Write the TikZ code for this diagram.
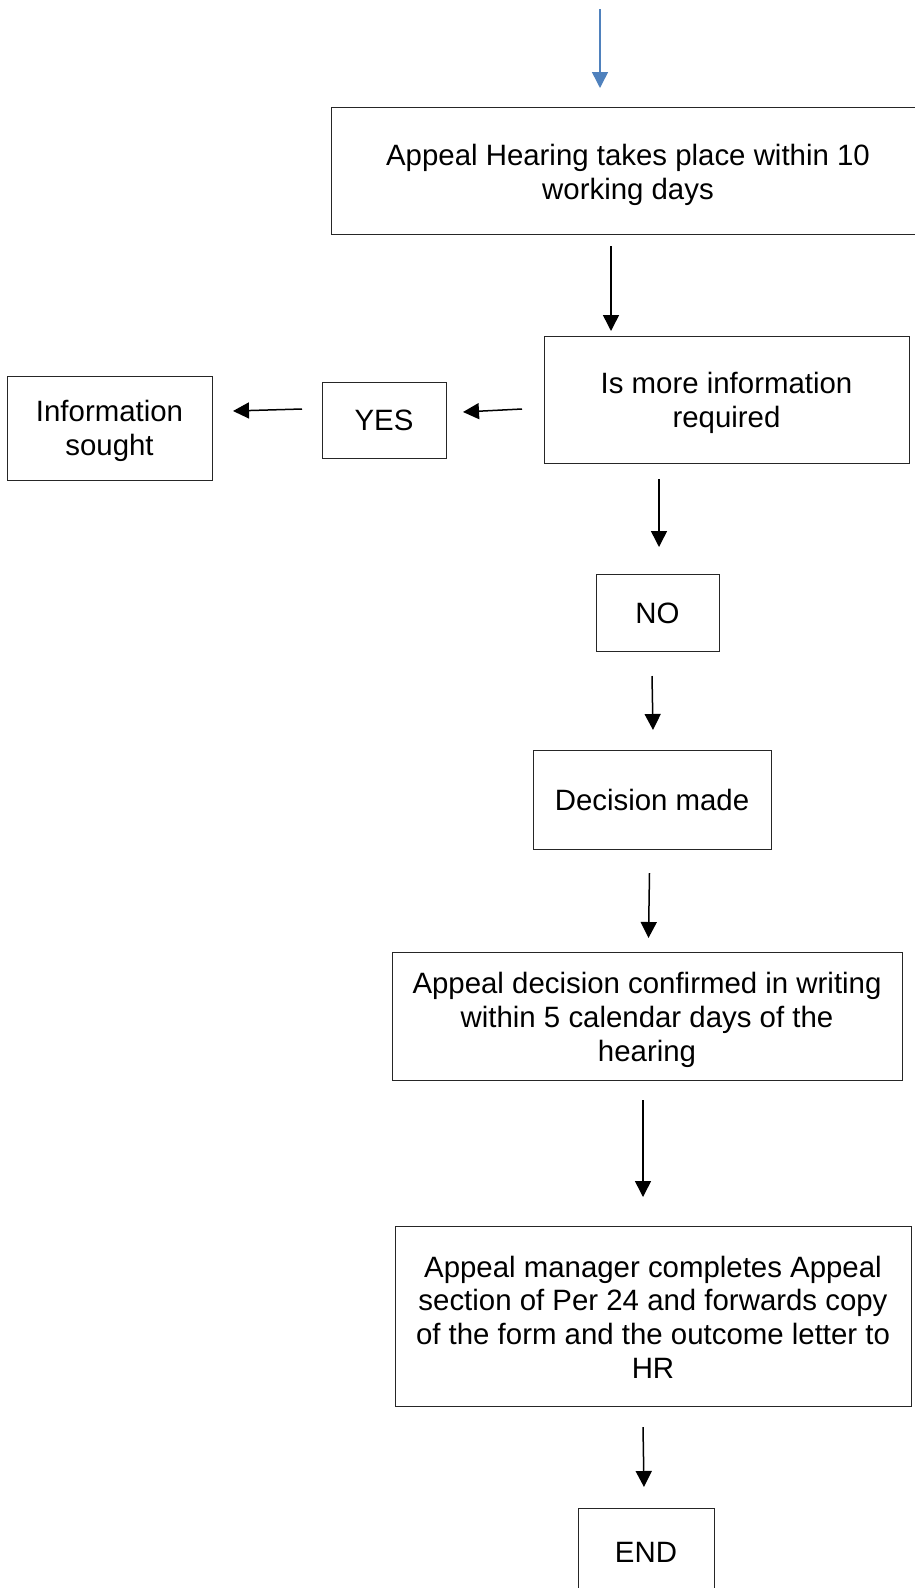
\documentclass[tikz,border=0pt]{standalone}
\usepackage{fontspec}
\setmainfont{Liberation Sans}
\usetikzlibrary{arrows.meta}
\definecolor{arrowblue}{HTML}{4F81BD}
\newcommand{\boxfont}{\fontsize{29.4}{33.8}\selectfont}
\newcommand{\lowtext}[2]{\raisebox{-#1}[\height][\depth]{\begin{tabular}{@{}c@{}}#2\end{tabular}}}
\tikzset{
  stepbox/.style={draw=black!85, line width=1pt, align=center, inner sep=0pt, font=\boxfont},
  flowarrow/.style={line width=1.5pt, -{Triangle[length=16pt,width=16pt]}},
  bluearrow/.style={draw=arrowblue, line width=1.5pt, -{Triangle[length=16pt,width=16pt]}, arrowblue}
}
\begin{document}
\begin{tikzpicture}[x=1pt,y=-1pt]
\useasboundingbox (0,0) rectangle (915,1588);
\clip (0,0) rectangle (915,1588);
\fill[white] (0,0) rectangle (915,1588);

\node[stepbox, minimum width=594pt, minimum height=127pt] (hear) at (628,170.5) {\lowtext{5pt}{Appeal Hearing takes place within 10\\working days}};
\node[stepbox, minimum width=365pt, minimum height=127pt] (more) at (726.5,399.5) {\lowtext{4pt}{Is more information\\required}};
\node[stepbox, minimum width=124pt, minimum height=76pt] (yes) at (384,420) {\lowtext{4pt}{YES}};
\node[stepbox, minimum width=205pt, minimum height=104pt] (info) at (109.5,428) {\lowtext{3.5pt}{Information\\sought}};
\node[stepbox, minimum width=123pt, minimum height=77pt] (no) at (657.5,612.5) {\lowtext{4pt}{NO}};
\node[stepbox, minimum width=238pt, minimum height=99pt] (dec) at (652,799.5) {\lowtext{4pt}{Decision made}};
\node[stepbox, minimum width=510pt, minimum height=128pt] (conf) at (647,1016) {\lowtext{4.5pt}{Appeal decision confirmed in writing\\within 5 calendar days of the\\hearing}};
\node[stepbox, minimum width=516pt, minimum height=180pt] (mgr) at (653,1316) {\lowtext{5pt}{Appeal manager completes Appeal\\section of Per 24 and forwards copy\\of the form and the outcome letter to\\HR}};
\node[stepbox, minimum width=136pt, minimum height=90pt] (end) at (646,1553) {\lowtext{3pt}{END}};

\coordinate (a0s) at (600,9);    \coordinate (a0e) at (600,88);
\coordinate (a1s) at (611,246);  \coordinate (a1e) at (611,331);
\coordinate (a2s) at (522,409);  \coordinate (a2e) at (463,412);
\coordinate (a3s) at (302,409);  \coordinate (a3e) at (233,411);
\coordinate (a4s) at (659,479);  \coordinate (a4e) at (659,547);
\coordinate (a5s) at (652,676);  \coordinate (a5e) at (653,730);
\coordinate (a6s) at (649.5,873); \coordinate (a6e) at (648.5,938);
\coordinate (a7s) at (643,1100); \coordinate (a7e) at (643,1197);
\coordinate (a8s) at (643,1427); \coordinate (a8e) at (644,1487);

\draw[bluearrow] (a0s) -- (a0e);
\draw[flowarrow] (a1s) -- (a1e);
\draw[flowarrow] (a2s) -- (a2e);
\draw[flowarrow] (a3s) -- (a3e);
\draw[flowarrow] (a4s) -- (a4e);
\draw[flowarrow] (a5s) -- (a5e);
\draw[flowarrow] (a6s) -- (a6e);
\draw[flowarrow] (a7s) -- (a7e);
\draw[flowarrow] (a8s) -- (a8e);
\end{tikzpicture}
\end{document}
